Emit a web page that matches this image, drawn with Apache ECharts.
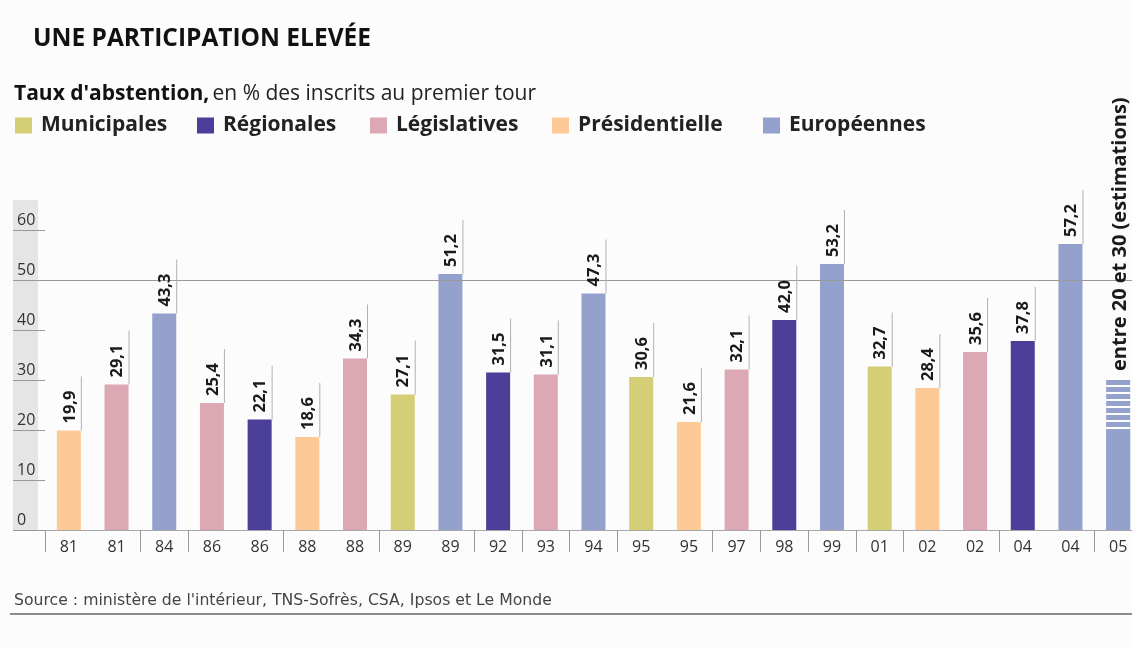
<!DOCTYPE html>
<html>
<head>
<meta charset="utf-8">
<script src="https://cdn.jsdelivr.net/npm/echarts@6/dist/echarts.min.js"></script>
<style>
html,body{margin:0;padding:0;background:#fcfcfc;}
#c{width:1132px;height:648px;}
</style>
</head>
<body>
<div id="c"></div>
<script>
// ---- data ----
const years = ['81','81','84','86','86','88','88','89','89','92','93','94','95','95','97','98','99','01','02','02','04','04','05'];
const types = ['Présidentielle','Législatives','Européennes','Législatives','Régionales','Présidentielle','Législatives','Municipales','Européennes','Régionales','Législatives','Européennes','Municipales','Présidentielle','Législatives','Régionales','Européennes','Municipales','Présidentielle','Législatives','Régionales','Européennes','Européennes'];
const values = [19.9,29.1,43.3,25.4,22.1,18.6,34.3,27.1,51.2,31.5,31.1,47.3,30.6,21.6,32.1,42.0,53.2,32.7,28.4,35.6,37.8,57.2,20];
const estimateIndex = 22;
const estimateLow = 20;
const estimateHigh = 30;
const estimateLabel = 'entre 20 et 30 (estimations)';
const typeNames = ['Municipales','Régionales','Législatives','Présidentielle','Européennes'];
const yTicks = [0,10,20,30,40,50,60];

const colors = {
  'Municipales':'#d4ce76',
  'Régionales':'#4b3f99',
  'Législatives':'#dba8b3',
  'Présidentielle':'#fcc997',
  'Européennes':'#94a1cc'
};
const FONT = 'Open Sans';
const legendLefts = [10, 192, 365, 547, 758];

const labels = values.map((v,i)=> i===estimateIndex ? estimateLabel : v.toFixed(1).replace('.',','));

const chart = echarts.init(document.getElementById('c'));

const series = [];
series.push({
  name:'estimation', type:'bar', barWidth:24, barGap:'-100%', z:2,
  data: values.map((v,i)=> i===estimateIndex ? estimateHigh : null),
  itemStyle:{color:colors['Européennes'], decal:{symbol:'rect', symbolSize:1, dashArrayX:[[1,0]], dashArrayY:[2,5], color:'#ffffff', rotation:0}},
  silent:true
});
typeNames.forEach((name,k)=>{
  const s = {
    name:name, type:'bar', barWidth:24, barGap:'-100%', z:3,
    data: values.map((v,i)=> types[i]===name ? (i===estimateIndex ? estimateLow : v) : null),
    itemStyle:{color:colors[name]}
  };
  if(k===0){
    s.markLine = {silent:true, symbol:'none', label:{show:false},
      lineStyle:{color:'#9a9a9a', width:1, type:'solid'},
      data:[{yAxis:50}]};
  }
  series.push(s);
});
series.push({
  type:'custom', z:5, silent:true, clip:false,
  data: values.map((v,i)=> [i, i===estimateIndex ? estimateHigh : v]),
  renderItem:function(params, api){
    const i = params.dataIndex;
    const p = api.coord([api.value(0), api.value(1)]);
    const children = [];
    const est = i===estimateIndex;
    if(!est){
      children.push({type:'line', shape:{x1:p[0]+12.5, y1:p[1], x2:p[0]+12.5, y2:p[1]-54},
        style:{stroke:'#b0b0b0', lineWidth:1}});
    }
    children.push({type:'text', x:p[0]+(est?2:1), y:p[1]-(est?9:7), rotation:Math.PI/2,
      style:{text:labels[i], fontFamily:FONT, fontWeight:'bold', fontSize:est?20:16.5, fill:'#1a1a1a', align:'left', verticalAlign:'middle'}});
    return {type:'group', children:children};
  }
});

const legends = typeNames.map((name,k)=>({
  data:[name], left:legendLefts[k], top:110, icon:'rect', itemWidth:17, itemHeight:16,
  textStyle:{fontFamily:FONT, fontWeight:'bold', fontSize:21, color:'#222', padding:[0,0,0,4]},
  selectedMode:false
}));

chart.setOption({
  backgroundColor:'#fcfcfc',
  animation:false,
  textStyle:{fontFamily:FONT},
  legend:legends,
  grid:{left:45, top:230, width:1097, height:300, containLabel:false, outerBoundsMode:'none'},
  xAxis:{
    type:'category',
    data: years.map((y,i)=> String(i)),
    axisLine:{lineStyle:{color:'#a8a8a8', width:1}},
    axisTick:{show:true, length:22, lineStyle:{color:'#999'},
      interval:function(idx){ return idx===0 || years[idx]!==years[idx-1]; }},
    axisLabel:{interval:0, margin:9, fontSize:16, color:'#333', fontFamily:FONT,
      formatter:function(v){ return years[+v]; }}
  },
  yAxis:{
    type:'value', min:0, max:60, interval:10,
    splitLine:{show:false},
    axisLine:{show:false},
    axisTick:{show:true, length:32, lineStyle:{color:'#999'}},
    axisLabel:{align:'left', margin:28, verticalAlign:'bottom', padding:[0,0,2,0], fontSize:16, color:'#333', fontFamily:FONT,
      formatter:function(v){ return yTicks.indexOf(v)>=0 ? String(v) : ''; }}
  },
  graphic:[
    {type:'rect', z:-1, shape:{x:13, y:200, width:25, height:331}, style:{fill:'#e5e5e5'}},
    {type:'text', left:33, top:27, style:{text:'UNE PARTICIPATION ELEVÉE', fontFamily:FONT, fontWeight:'bold', fontSize:24.5, fill:'#111'}},
    {type:'text', left:14, top:84, style:{
      text:'{b|Taux d\'abstention,} {n|en % des inscrits au premier tour}',
      rich:{b:{fontFamily:FONT, fontWeight:'bold', fontSize:21, fill:'#111'}, n:{fontFamily:FONT, fontSize:21, fill:'#222'}}}},
    {type:'text', left:14, top:593, style:{text:'Source : ministère de l\'intérieur, TNS-Sofrès, CSA, Ipsos et Le Monde', fontFamily:'DejaVu Sans', fontSize:15.7, fill:'#444'}},
    {type:'rect', shape:{x:10, y:613, width:1122, height:2}, style:{fill:'#8c8c8c'}}
  ],
  series:series
});
</script>
</body>
</html>
